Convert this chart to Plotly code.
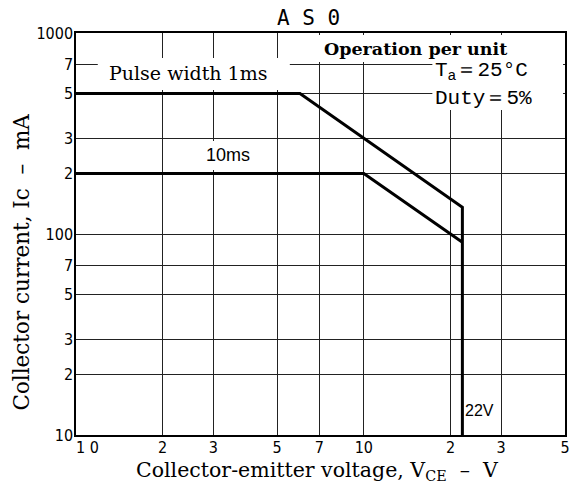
import plotly.graph_objects as go

# ---- data ----
vce_1ms = [1, 6, 22, 22]
ic_1ms = [500, 500, 136, 10]
vce_10ms = [1, 10, 22]
ic_10ms = [200, 200, 91]

x_tickvals = [1, 2, 3, 5, 7, 10, 20, 30, 50]
x_ticktext = ["\u00a0\u00a0\u00a0\u00a0\u00a01 0", "2", "3", "5", "7", "10", "2", "3", "5"]
y_tickvals = [10, 20, 30, 50, 70, 100, 200, 300, 500, 700, 1000]
y_ticktext = ["10", "2", "3", "5", "7", "100", "2", "3", "5", "7", "1000"]

W, H = 577, 486
L, R, T, B = 76, 7, 33, 51
PW, PH = W - L - R, H - T - B


def px(X):
    return (X - L) / PW


def py(Y):
    return (H - B - Y) / PH


fig = go.Figure()
line_style = dict(color="black", width=3)
fig.add_trace(go.Scatter(x=vce_1ms, y=ic_1ms, mode="lines", line=line_style,
                         hoverinfo="skip", showlegend=False))
fig.add_trace(go.Scatter(x=vce_10ms, y=ic_10ms, mode="lines", line=line_style,
                         hoverinfo="skip", showlegend=False))

tick_font = dict(family="DejaVu Sans Condensed, Liberation Sans", size=16, color="black")

fig.update_xaxes(type="log", range=[0, 1.69897], tickvals=x_tickvals, ticktext=x_ticktext,
                 showgrid=True, gridcolor="#222", gridwidth=1, showline=True, mirror=True,
                 linecolor="black", linewidth=1.5, ticks="", tickfont=tick_font,
                 ticklabelstandoff=-3, zeroline=False, fixedrange=True)
fig.update_yaxes(type="log", range=[1, 3], tickvals=y_tickvals, ticktext=y_ticktext,
                 showgrid=True, gridcolor="#222", gridwidth=1, showline=True, mirror=True,
                 linecolor="black", linewidth=1.5, ticks="", tickfont=tick_font,
                 ticklabelstandoff=-2, zeroline=False, fixedrange=True)

# white masks where the original's labels interrupt the grid
masks = [
    (98, 292, 58, 90),    # Pulse width 1ms
    (295, 568, 35, 62),   # Operation per unit
    (436, 568, 62, 110),  # Ta / Duty
    (200, 258, 141, 170), # 10ms
]
for x0, x1, y0, y1 in masks:
    fig.add_shape(type="rect", xref="paper", yref="paper",
                  x0=px(x0), x1=px(x1), y0=py(y1), y1=py(y0),
                  fillcolor="white", line=dict(width=0), layer="above")

serif = "DejaVu Serif"
ann = [
    dict(text="A S 0", X=311, Y=18, font=dict(family="DejaVu Sans Mono", size=21), xanchor="center"),
    dict(text="<b>Operation per unit</b>", X=419, Y=49, font=dict(family=serif, size=17.5), xanchor="center"),
    dict(text="Pulse width 1ms", X=189, Y=73, font=dict(family=serif, size=19), xanchor="center"),
    dict(text="T<sub>a</sub>＝25°C", X=437, Y=72, font=dict(family="Liberation Mono", size=21), xanchor="left"),
    dict(text="Duty＝5%", X=437, Y=98, font=dict(family="Liberation Mono", size=21), xanchor="left"),
    dict(text="10ms", X=230, Y=155, font=dict(family="Liberation Sans", size=18), xanchor="center"),
    dict(text="22V", X=484, Y=410, font=dict(family="Liberation Sans", size=16), xanchor="center"),
    dict(text="Collector-emitter voltage, V<sub>CE</sub>  –  V", X=320, Y=471,
         font=dict(family=serif, size=20.5), xanchor="center"),
]
for a in ann:
    fig.add_annotation(text=a["text"], xref="paper", yref="paper", x=px(a["X"]), y=py(a["Y"]),
                       xanchor=a["xanchor"], yanchor="middle", showarrow=False,
                       font=dict(color="black", **a["font"]))

fig.add_annotation(text="Collector current, Ic  –  mA", xref="paper", yref="paper",
                   x=px(20), y=py(262), textangle=-90, showarrow=False,
                   xanchor="center", yanchor="middle",
                   font=dict(family=serif, size=21.5, color="black"))

fig.update_layout(width=W, height=H, margin=dict(l=L, r=R, t=T, b=B),
                  paper_bgcolor="white", plot_bgcolor="white", showlegend=False)

fig.write_html("out.html", config={"displayModeBar": False},
               post_script="document.body.style.margin='0';")
